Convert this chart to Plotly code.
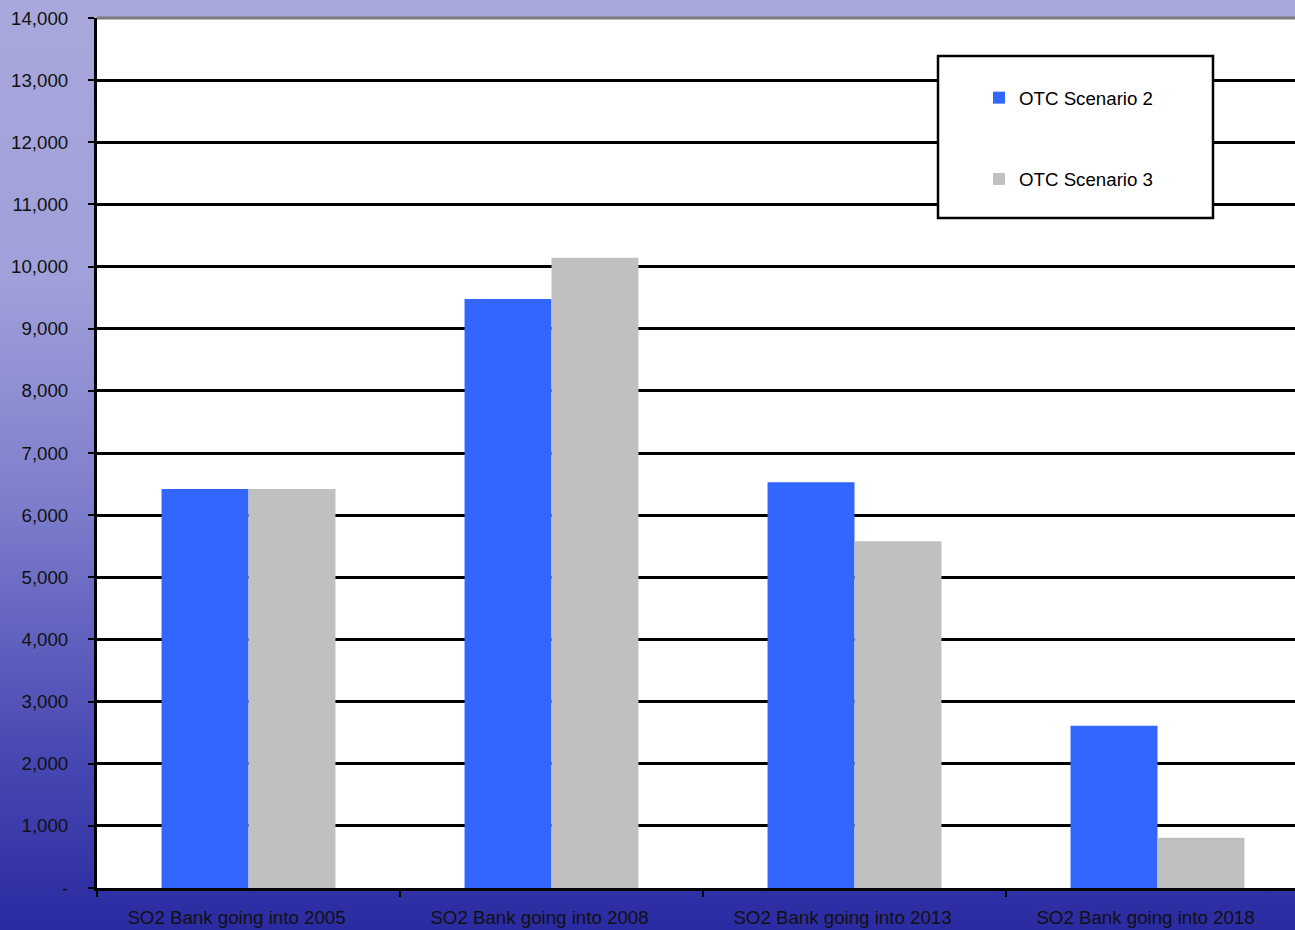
import base64
import plotly.graph_objects as go

categories = ["SO2 Bank going into 2005", "SO2 Bank going into 2008",
              "SO2 Bank going into 2013", "SO2 Bank going into 2018"]
scenario2 = [6420, 9480, 6530, 2610]
scenario3 = [6420, 10140, 5580, 810]
y_tickvals = list(range(0, 14001, 1000))
y_ticktext = ["-"] + [f"{v:,}" for v in y_tickvals[1:]]

W, H = 1295, 930
ML, MR, MT, MB = 97, 0, 18, 42
PW, PH = W - ML - MR, H - MT - MB

svg = f'''<svg xmlns="http://www.w3.org/2000/svg" width="{W}" height="{H}" preserveAspectRatio="none">
<defs><linearGradient id="g" x1="0" y1="0" x2="0" y2="1">
<stop offset="0" stop-color="#a8a8dc"/>
<stop offset="0.3" stop-color="#a0a0da"/>
<stop offset="0.55" stop-color="#7c7ccc"/>
<stop offset="0.8" stop-color="#4a4ab4"/>
<stop offset="1" stop-color="#2a2aa2"/>
</linearGradient></defs>
<rect width="{W}" height="{H}" fill="url(#g)"/></svg>'''
bg_uri = "data:image/svg+xml;base64," + base64.b64encode(svg.encode()).decode()

FONT = "Liberation Sans, Arial, sans-serif"
FS = 18.7

fig = go.Figure()
fig.add_trace(go.Bar(name="OTC Scenario 2", x=categories, y=scenario2,
                     marker=dict(color="#3366FF", line=dict(width=0)),
                     legendgroup="a"))
fig.add_trace(go.Bar(name="OTC Scenario 3", x=categories, y=scenario3,
                     marker=dict(color="#C0C0C0", line=dict(width=0)),
                     legendgroup="b"))

cat_px = 303.0
fig.update_layout(
    width=W, height=H,
    margin=dict(l=ML, r=MR, t=MT, b=MB, pad=0),
    paper_bgcolor="#3a3aa8",
    plot_bgcolor="rgba(0,0,0,0)",
    barmode="group", bargap=0.426, bargroupgap=0,
    font=dict(family=FONT, size=FS, color="#111111"),
    showlegend=True,
    legend=dict(x=(979 - ML) / PW, y=(H - MB - 79) / PH, xanchor="left", yanchor="top",
                bgcolor="rgba(0,0,0,0)", borderwidth=0, tracegroupgap=54,
                font=dict(family=FONT, size=FS, color="#000000")),
    xaxis=dict(range=[-0.5, -0.5 + PW / cat_px], tickson="boundaries",
               ticks="outside", ticklen=6, tickwidth=2, tickcolor="#000000",
               showline=True, linecolor="#000000", linewidth=3,
               showgrid=False, ticklabelshift=-12, ticklabelstandoff=11,
               tickfont=dict(family=FONT, size=FS, color="#111111")),
    yaxis=dict(range=[0, 14000], tickvals=y_tickvals, ticktext=y_ticktext,
               ticks="outside", ticklen=6, tickwidth=2, tickcolor="#000000",
               showline=True, linecolor="#000000", linewidth=3,
               showgrid=True, gridcolor="#000000", gridwidth=2.5, zeroline=False,
               ticklabelstandoff=16,
               tickfont=dict(family=FONT, size=FS, color="#111111")),
    images=[dict(source=bg_uri, xref="paper", yref="paper",
                 x=-ML / PW, y=1 + MT / PH, sizex=W / PW, sizey=H / PH,
                 xanchor="left", yanchor="top", sizing="stretch", layer="below")],
    shapes=[
        dict(type="rect", xref="paper", yref="paper", x0=0, x1=1, y0=0, y1=1,
             fillcolor="#FFFFFF", line=dict(width=0), layer="below"),
        dict(type="line", xref="paper", yref="paper", x0=0, x1=1, y0=1, y1=1,
             line=dict(color="#7a7a7a", width=3), layer="above"),
        dict(type="rect", xref="paper", yref="paper",
             x0=(938 - ML) / PW, x1=(1213 - ML) / PW,
             y0=(H - MB - 218) / PH, y1=(H - MB - 56) / PH,
             fillcolor="#FFFFFF", line=dict(color="#000000", width=2.5), layer="above"),
    ],
)

fig.write_html("out.html")
